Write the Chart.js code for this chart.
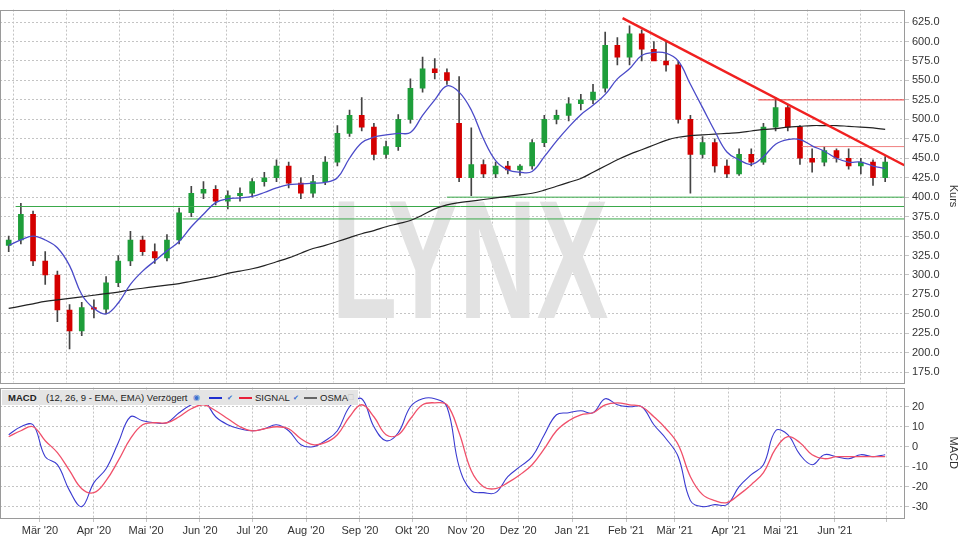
<!DOCTYPE html>
<html>
<head>
<meta charset="utf-8">
<script src="https://cdn.jsdelivr.net/npm/chart.js@4"></script>
<style>
  body { margin: 0; background: #fff; font-family: "Liberation Sans", Arial, sans-serif; }
  #wrap { position: relative; width: 960px; height: 540px; overflow: hidden; }
  #price { position: absolute; left: 0; top: 0; }
  #macd { position: absolute; left: 0; top: 378px; }
  #legend { position: absolute; left: 2px; top: 390px; height: 15px; width: 356px; background: #e4e4e4;
    font-size: 9.5px; line-height: 15px; color: #222; white-space: nowrap; }
  #legend span { position: absolute; top: 0; }
  .seg { position: absolute; top: 7px; height: 2px; width: 13px; }
  .chk { font-size: 7px; color: #3a6fd0; }
</style>
</head>
<body>
<div id="wrap">
  <canvas id="price" width="960" height="392"></canvas>
  <canvas id="macd" width="960" height="162"></canvas>
  <div id="legend">
    <span style="left:6px;font-weight:bold">MACD</span>
    <span style="left:44px">(12, 26, 9 - EMA, EMA) Verzögert</span>
    <span style="left:191px;color:#3a6fd0;font-size:8px">&#9673;</span>
    <div class="seg" style="left:207px;background:#1f2fd0"></div>
    <span class="chk" style="left:225px">&#10004;</span>
    <div class="seg" style="left:237px;background:#e8203a"></div>
    <span style="left:253px">SIGNAL</span>
    <span class="chk" style="left:291px">&#10004;</span>
    <div class="seg" style="left:302px;background:#666"></div>
    <span style="left:318px">OSMA</span>
    <span style="left:346px;color:#bbb;font-size:9px">&#9633;</span>
  </div>
</div>
<script>
// weekly candles, first week starts Mon 10 Feb 2020
const opens = [338,345,378,318,300,255,228,258,256,290,318,345,330,322,345,380,405,410,395,402,405,420,425,440,418,405,420,445,482,505,490,455,465,500,540,565,560,495,425,442,430,440,435,440,470,500,505,520,525,540,595,580,610,590,575,570,500,455,470,440,430,455,445,490,515,490,450,445,460,450,440,445,425];
const highs = [350,392,382,330,305,262,265,268,298,325,356,350,340,352,386,414,420,415,408,412,424,432,448,445,425,428,452,492,512,528,495,472,506,552,580,578,565,555,489,448,445,446,442,474,505,512,528,532,545,612,605,620,615,600,600,575,505,478,475,448,462,462,495,528,518,492,462,465,462,462,450,448,452];
const lows = [330,340,312,288,240,205,222,245,250,285,312,325,315,318,340,375,398,390,385,395,400,414,420,412,398,400,416,440,478,485,448,450,460,495,535,552,545,420,402,425,425,430,428,436,465,494,498,512,520,535,570,570,575,580,562,495,405,450,432,425,428,440,442,485,485,442,432,440,445,436,430,415,420];
const closes = [345,378,318,300,255,228,258,256,290,318,345,330,322,345,380,405,410,395,402,405,420,425,440,418,405,420,445,482,505,490,455,465,500,540,565,560,550,425,442,430,440,435,440,470,500,505,520,525,535,595,580,610,590,575,570,500,455,470,440,430,455,445,490,515,490,450,445,460,450,440,445,425,445];
const avgShort = [338,345,350,345,335,312,275,257,250,264,288,305,318,331,343,362,378,393,398,399,401,406,412,416,417,418,419,425,450,470,477,480,482,483,505,525,543,535,512,475,447,435,432,433,452,472,490,506,518,532,552,565,582,586,585,575,545,515,485,458,448,442,452,468,474,474,466,459,450,445,445,440,437];
const avgLong = [257,260,263,266,268,270,272,274,276,278,281,283,285,287,289,292,295,298,302,305,308,312,317,322,328,334,338,343,348,353,357,362,366,370,377,385,390,393,395,397,399,401,403,405,409,414,419,424,432,440,448,455,461,467,473,477,479,480,481,482,483,485,487,488,490,491,492,492,492,491,490,489,487];
const macdLine = [6,10,11,-5,-9,-22,-30,-18,-11,2,15,13,12,12,17,21,23,15,11,9,8,9,11,8,1,0,3,8,20,24,10,3,7,20,24,24,20,-10,-22,-23,-23,-15,-10,-5,6,16,17,18,17,24,21,20,20,11,4,-5,-27,-30,-29,-29,-20,-14,-9,8,6,-4,-9,-4,-5,-6,-4,-5,-4];
const signalLine = [5,8,10,3,-3,-12,-21,-23,-17,-7,4,11,12,12,15,19,21,18,14,10,8,9,10,9,4,1,2,6,15,21,15,6,6,14,21,22,21,7,-12,-20,-21,-18,-14,-9,-1,8,13,16,17,21,22,21,20,15,9,1,-15,-24,-27,-28,-24,-19,-13,-1,5,2,-4,-6,-5,-5,-5,-5,-5];
const priceTicks = [175,200,225,250,275,300,325,350,375,400,425,450,475,500,525,550,575,600,625];
const macdTicks = [-30,-20,-10,0,10,20];
const monthNames = ["Jan","Feb","Mär","Apr","Mai","Jun","Jul","Aug","Sep","Okt","Nov","Dez"];
// support / resistance levels: [price, startDay]
const greenLevels = [[400, 257], [388, 9], [372, 105]];
const redLevels = [[525, 436], [465, 461]];
const trendLine = [[358, 630], [520, 441]];

const DAY0 = Date.UTC(2020, 1, 7);
const XMAX = 520.4;
const dayOf = d => (d - DAY0) / 86400000;
const weekDay = i => 5 + 7 * i;

const monthTicks = [];
for (let y = 2020, m = 2; ; m++) {
  if (m > 11) { m = 0; y++; }
  monthTicks.push({ value: dayOf(Date.UTC(y, m, 1)), label: y === 2021 && m === 6 ? "" : monthNames[m] + " '" + String(y).slice(2) });
  if (y === 2021 && m === 6) break;
}

const pts = arr => arr.map((v, i) => ({ x: weekDay(i), y: v }));
const candleColor = closes.map((c, i) => c >= opens[i] ? "#1e9e3a" : "#d40000");

const fontCfg = { family: "'Liberation Sans', Arial, sans-serif", size: 11 };
const gridCfg = { color: "#c4c4c4", lineWidth: 1, tickLength: 4, borderDash: [2, 2] };
const borderCfg = { display: false, dash: [2, 2] };

const frame = {
  id: "frame",
  afterDraw(chart) {
    const { ctx, chartArea: a } = chart;
    ctx.save();
    ctx.strokeStyle = "#9a9a9a";
    ctx.lineWidth = 1;
    ctx.strokeRect(Math.round(a.left) + 0.5, Math.round(a.top) + 0.5, Math.round(a.right - a.left) - 1, Math.round(a.bottom - a.top));
    ctx.restore();
  }
};

const watermark = {
  id: "watermark",
  beforeDatasetsDraw(chart) {
    const { ctx } = chart;
    ctx.save();
    ctx.fillStyle = "#e2e2e2";
    ctx.font = "bold 168px 'Liberation Sans', Arial, sans-serif";
    ctx.textAlign = "center";
    ctx.textBaseline = "middle";
    ctx.translate(470, 272);
    ctx.scale(0.64, 1);
    ctx.fillText("LYNX", 0, 0);
    ctx.restore();
  }
};

function xScale(showLabels) {
  return {
    type: "linear", min: 0, max: XMAX, offset: false,
    afterBuildTicks: s => { s.ticks = monthTicks.map(t => ({ value: t.value })); },
    afterFit: s => { s.height = showLabels ? 22 : 1; },
    grid: { color: "#c4c4c4", tickLength: showLabels ? 4 : 0, borderDash: [2, 2] },
    border: { display: false, dash: [2, 2] },
    ticks: {
      display: showLabels, color: "#333", font: fontCfg, maxRotation: 0, autoSkip: false, padding: 2,
      callback: v => (monthTicks.find(t => Math.abs(t.value - v) < 0.01) || {}).label || ""
    }
  };
}

function yScale(min, max, ticks, title, fmt) {
  return {
    position: "right", min: min, max: max,
    afterBuildTicks: s => { s.ticks = ticks.map(v => ({ value: v })); },
    afterFit: s => { s.width = 55; },
    grid: gridCfg, border: borderCfg,
    title: { display: true, text: title, color: "#333", font: fontCfg, padding: 0 },
    ticks: { color: "#333", font: fontCfg, padding: 3, autoSkip: false, callback: fmt }
  };
}

const levelSets = [
  ...greenLevels.map(([p, d]) => ({ type: "line", data: [{ x: d, y: p }, { x: XMAX, y: p }], borderColor: "#3aa94a", borderWidth: 1, pointRadius: 0, order: 3 })),
  ...redLevels.map(([p, d], k) => ({ type: "line", data: [{ x: d, y: p }, { x: XMAX, y: p }], borderColor: k === 0 ? "#ee3030" : "#f08080", borderWidth: 1, pointRadius: 0, order: 3 })),
  { type: "line", data: trendLine.map(([d, p]) => ({ x: d, y: p })), borderColor: "#f02020", borderWidth: 2.5, pointRadius: 0, order: 0 }
];

new Chart(document.getElementById("price"), {
  type: "bar",
  data: {
    datasets: [
      { type: "bar", data: lows.map((l, i) => ({ x: weekDay(i), y: [l, highs[i]] })), backgroundColor: "#444", barThickness: 1, grouped: false, order: 5 },
      { type: "bar", data: opens.map((o, i) => ({ x: weekDay(i), y: [o, closes[i]] })), backgroundColor: candleColor, barThickness: 5, grouped: false, order: 4 },
      { type: "line", data: pts(avgLong), borderColor: "#222", borderWidth: 1.2, pointRadius: 0, tension: 0.4, order: 2 },
      { type: "line", data: pts(avgShort), borderColor: "#4a4ac8", borderWidth: 1.3, pointRadius: 0, tension: 0.4, order: 1 },
      ...levelSets
    ]
  },
  options: {
    animation: false, responsive: false, devicePixelRatio: 1,
    layout: { padding: { top: 0, left: 0, right: 0, bottom: 1 } },
    plugins: { legend: { display: false }, tooltip: { enabled: false } },
    scales: {
      x: xScale(false),
      y: yScale(162, 641, priceTicks, "Kurs", v => v.toFixed(1))
    }
  },
  plugins: [watermark, frame]
});

new Chart(document.getElementById("macd"), {
  type: "line",
  data: {
    datasets: [
      { data: pts(signalLine), borderColor: "#f0506a", borderWidth: 1.3, pointRadius: 0, tension: 0.4 },
      { data: pts(macdLine), borderColor: "#3a3ad0", borderWidth: 1.1, pointRadius: 0, tension: 0.4 }
    ]
  },
  options: {
    animation: false, responsive: false, devicePixelRatio: 1,
    layout: { padding: { top: 4, left: 0, right: 0, bottom: 0 } },
    plugins: { legend: { display: false }, tooltip: { enabled: false } },
    scales: {
      x: xScale(true),
      y: yScale(-35.7, 29.6, macdTicks, "MACD", v => String(v))
    }
  },
  plugins: [frame]
});
</script>
</body>
</html>
